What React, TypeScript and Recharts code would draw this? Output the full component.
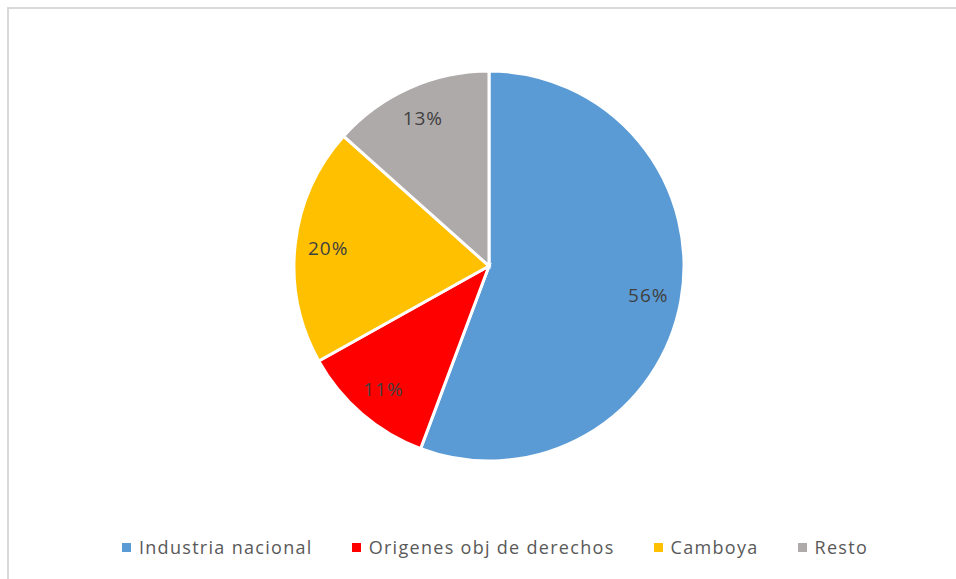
import React from 'react';
import { PieChart, Pie, Cell, Legend } from 'recharts';

// Shares (labels show the rounded values)
const categories = ['Industria nacional', 'Origenes obj de derechos', 'Camboya', 'Resto'];
const shares = [55.7, 11.2, 19.7, 13.4];
const sliceColors = ['#5B9BD5', '#FF0000', '#FFC000', '#AEAAAA'];

const chartData = categories.map((name, i) => ({ name, value: shares[i] }));

const FONT = '"Open Sans", "Liberation Sans", Arial, sans-serif';
const RADIAN = Math.PI / 180;

// Data label placed inside the slice, like Excel's "best fit"
const renderLabel = (props: any) => {
    const { cx, cy, midAngle, outerRadius, percent } = props;
    const r = outerRadius * 0.83;
    const x = cx + r * Math.cos(-midAngle * RADIAN);
    const y = cy + r * Math.sin(-midAngle * RADIAN);
    return (
        <text
            x={x}
            y={y}
            fill="#404040"
            fontSize={19}
            fontFamily={FONT}
            letterSpacing={1}
            textAnchor="middle"
            dominantBaseline="central"
        >
            {`${Math.round(percent * 100)}%`}
        </text>
    );
};

// Legend row at the bottom
const renderLegend = () => (
    <div style={{ display: 'flex', justifyContent: 'center', fontFamily: FONT, fontSize: 18, letterSpacing: 1.3, color: '#595959', lineHeight: '26px' }}>
        {categories.map((name, i) => (
            <div key={name} style={{ display: 'flex', alignItems: 'center', marginRight: i < categories.length - 1 ? 39 : 0 }}>
                <span style={{ width: 9, height: 9, background: sliceColors[i], marginRight: 8, display: 'inline-block' }} />
                <span>{name}</span>
            </div>
        ))}
    </div>
);

const App: React.FC = () => {
    return (
        <div style={{ position: 'absolute', left: 0, top: 0, width: 956, height: 579, background: '#fff' }}>
            {/* frame lines of the chart area (only top and left show) */}
            <div style={{ position: 'absolute', left: 7, top: 7, width: 949, height: 572, borderTop: '2px solid #D9D9D9', borderLeft: '2px solid #D9D9D9' }} />
            <PieChart
                width={956}
                height={579}
                margin={{ top: 0, right: 0, bottom: 0, left: 0 }}
                style={{ position: 'absolute', left: 0, top: 0 }}
            >
                <Pie
                    data={chartData}
                    dataKey="value"
                    nameKey="name"
                    cx={489}
                    cy={266}
                    outerRadius={195}
                    startAngle={90}
                    endAngle={-270}
                    stroke="#FFFFFF"
                    strokeWidth={3}
                    label={renderLabel}
                    labelLine={false}
                    isAnimationActive={false}
                >
                    {chartData.map((d, i) => (
                        <Cell key={d.name} fill={sliceColors[i]} />
                    ))}
                </Pie>
                <Legend
                    content={renderLegend}
                    layout="horizontal"
                    verticalAlign="bottom"
                    wrapperStyle={{ top: 534, bottom: 'auto', left: 34, width: 922 }}
                />
            </PieChart>
        </div>
    );
};

export default App;
